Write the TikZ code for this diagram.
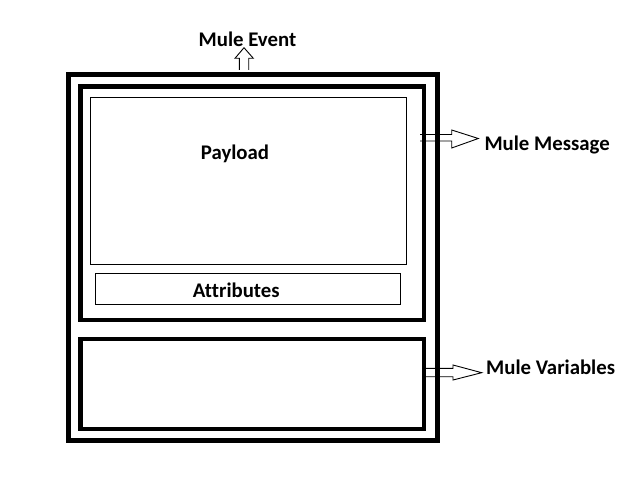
\documentclass[tikz,border=0pt]{standalone}
\usepackage{fontspec}
\setmainfont{Carlito}[Ligatures=NoCommon]
\begin{document}
\begin{tikzpicture}[x=1pt,y=-1pt,
  lbl/.style={font=\fontsize{20.8}{24}\selectfont\bfseries, inner sep=0pt, anchor=base},
  lblw/.style={lbl, anchor=base west},
  thick box/.style={draw, line width=5pt, rectangle, inner sep=0pt, anchor=north west},
  thin box/.style={draw, line width=1pt, rectangle, inner sep=0pt, anchor=north west},
  blockarrow/.style={draw, line width=0.9pt, line join=miter}]
\useasboundingbox (0,0) rectangle (642,497);
% boxes
\node[thick box, minimum width=369pt, minimum height=365.5pt] (event) at (65.5,72.5) {};
\node[thick box, line width=4.6pt, minimum width=343.2pt, minimum height=233.3pt] (message) at (78.3,84.2) {};
\node[thick box, line width=4.6pt, minimum width=343.2pt, minimum height=89.7pt] (vars) at (78.3,336.8) {};
\node[thin box, minimum width=316pt, minimum height=166pt] (payload) at (89.5,97.5) {};
\node[thin box, minimum width=305pt, minimum height=31pt] (attrs) at (94.5,272.5) {};
% texts
\node[lbl] (tpayload) at (235,160) {Payload};
\node[lbl] (tattrs) at (236.3,297.3) {Attributes};
\node[lbl] (tevent) at (247.5,46.7) {Mule Event};
\node[lblw] (tmessage) at (484.3,151) {Mule Message};
\node[lblw] (tvars) at (486,374.3) {Mule Variables};
% block arrows
\coordinate (evtip) at (244,47.7);
\draw[blockarrow] (239.3,70) -- (239.3,58.3) -- (235,58.3) -- (evtip) -- (253.3,58.3) -- (248.7,58.3) -- (248.7,70);
\coordinate (msgtip) at (478.3,138.5);
\draw[blockarrow] (420,134.5) -- (451.7,134.5) -- (451.7,130) -- (msgtip) -- (451.7,148) -- (451.7,141) -- (420,141);
\coordinate (vartip) at (481.7,372.7);
\draw[blockarrow] (425,368.3) -- (453,368.3) -- (453,365) -- (vartip) -- (453,380) -- (453,376.7) -- (425,376.7) -- cycle;
\end{tikzpicture}
\end{document}
